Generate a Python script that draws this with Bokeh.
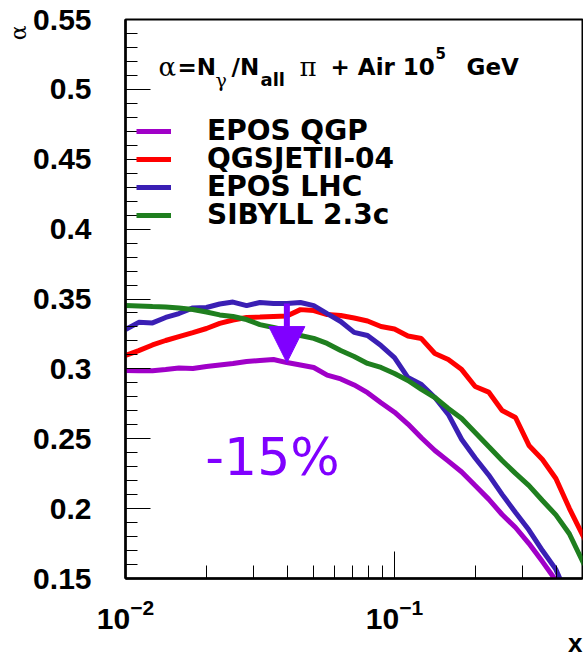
from bokeh.embed import file_html
from bokeh.models import Arrow, FixedTicker, Label, Legend, LegendItem, NormalHead, Range1d, Title
from bokeh.plotting import figure
from bokeh.resources import INLINE

# Energy fraction x, 20 log-spaced samples per decade
x_grid = [0.0100, 0.0112, 0.0126, 0.0141, 0.0158, 0.0178, 0.0200, 0.0224, 0.0251, 0.0282,
          0.0316, 0.0355, 0.0398, 0.0447, 0.0501, 0.0562, 0.0631, 0.0708, 0.0794, 0.0891,
          0.1000, 0.1122, 0.1259, 0.1413, 0.1585, 0.1778, 0.1995, 0.2239, 0.2512, 0.2818,
          0.3162, 0.3548, 0.3981, 0.4467, 0.5012, 0.5623]

# alpha = N_gamma / N_all for each hadronic interaction model
epos_qgp = [0.2988, 0.2986, 0.2986, 0.2995, 0.3006, 0.3003, 0.3017, 0.3028, 0.3038, 0.3053,
            0.3060, 0.3067, 0.3045, 0.3028, 0.3010, 0.2955, 0.2928, 0.2885, 0.2830, 0.2758,
            0.2690, 0.2605, 0.2507, 0.2416, 0.2340, 0.2262, 0.2165, 0.2068, 0.1958, 0.1865,
            0.1750, 0.1621, 0.1486, 0.1343]
qgsjet = [0.3096, 0.3131, 0.3171, 0.3203, 0.3231, 0.3260, 0.3289, 0.3325, 0.3350, 0.3368,
          0.3371, 0.3375, 0.3378, 0.3424, 0.3417, 0.3389, 0.3382, 0.3364, 0.3343, 0.3303,
          0.3285, 0.3235, 0.3217, 0.3110, 0.3067, 0.2995, 0.2874, 0.2834, 0.2702, 0.2652,
          0.2452, 0.2352, 0.2216, 0.2002, 0.1809, 0.1630]
epos_lhc = [0.3282, 0.3333, 0.3329, 0.3368, 0.3396, 0.3436, 0.3439, 0.3464, 0.3478, 0.3453,
            0.3475, 0.3468, 0.3468, 0.3475, 0.3453, 0.3396, 0.3339, 0.3261, 0.3239, 0.3167,
            0.3081, 0.2938, 0.2888, 0.2795, 0.2674, 0.2495, 0.2362, 0.2241, 0.2102, 0.1972,
            0.1847, 0.1700, 0.1565, 0.1343]
sibyll = [0.3453, 0.3450, 0.3446, 0.3443, 0.3435, 0.3425, 0.3407, 0.3386, 0.3375, 0.3353,
          0.3317, 0.3296, 0.3275, 0.3239, 0.3218, 0.3182, 0.3132, 0.3089, 0.3039, 0.3010,
          0.2967, 0.2917, 0.2853, 0.2795, 0.2717, 0.2645, 0.2545, 0.2444, 0.2344, 0.2252,
          0.2165, 0.2058, 0.1955, 0.1820, 0.1620, 0.1414]

model_names = ["EPOS QGP", "QGSJETII-04", "EPOS LHC", "SIBYLL 2.3c"]
model_colors = ["#a000c8", "#ff0000", "#3a1fb4", "#1f7f1f"]
arrow_color = "#8000ff"
arrow_index = 12          # x sample where the EPOS LHC -> EPOS QGP drop is marked
drop_label = "-15%"

# Axis ticks
y_ticks = [0.15, 0.2, 0.25, 0.3, 0.35, 0.4, 0.45, 0.5, 0.55]
y_tick_labels = ["0.15", "0.2", "0.25", "0.3", "0.35", "0.4", "0.45", "0.5", "0.55"]
y_minor = [0.15, 0.16, 0.17, 0.18, 0.19, 0.2, 0.21, 0.22, 0.23, 0.24, 0.25, 0.26, 0.27,
           0.28, 0.29, 0.3, 0.31, 0.32, 0.33, 0.34, 0.35, 0.36, 0.37, 0.38, 0.39, 0.4,
           0.41, 0.42, 0.43, 0.44, 0.45, 0.46, 0.47, 0.48, 0.49, 0.5, 0.51, 0.52, 0.53,
           0.54, 0.55]
x_ticks = [0.01, 0.1]
x_minor = [0.02, 0.03, 0.04, 0.05, 0.06, 0.07, 0.08, 0.09, 0.2, 0.3, 0.4, 0.5]

SANS = "Liberation Sans"
WIDE = "DejaVu Sans"
SERIF = "DejaVu Serif"

p = figure(width=583, height=658, x_axis_type="log",
           x_range=Range1d(0.01, 0.5), y_range=Range1d(0.15, 0.55),
           output_backend="svg", toolbar_location=None,
           min_border_left=125, min_border_right=1, min_border_top=19, min_border_bottom=80)
p.grid.visible = False
p.background_fill_color = "white"
p.border_fill_color = "white"
p.outline_line_color = "black"
p.outline_line_width = 2

# y axis
p.yaxis.ticker = FixedTicker(ticks=y_ticks, minor_ticks=y_minor)
p.yaxis.major_label_overrides = dict(zip(y_ticks, y_tick_labels))
p.yaxis.major_label_standoff = 34
p.yaxis.major_tick_in = 25
p.yaxis.minor_tick_in = 12

# x axis: log labels drawn as 10 with exponent
p.xaxis.ticker = FixedTicker(ticks=x_ticks, minor_ticks=x_minor)
p.xaxis.major_label_standoff = 20
p.xaxis.major_tick_in = 27
p.xaxis.minor_tick_in = 13

for ax in (p.xaxis, p.yaxis):
    ax.axis_line_width = 2.5
    ax.axis_line_color = "black"
    ax.major_tick_out = 0
    ax.minor_tick_out = 0
    ax.major_tick_line_color = "black"
    ax.minor_tick_line_color = "black"
    ax.major_tick_line_width = 1
    ax.minor_tick_line_width = 1
    ax.major_label_text_font = SANS
    ax.major_label_text_font_style = "bold"
    ax.major_label_text_font_size = "30px"
    ax.major_label_text_color = "black"

# axis titles
y_title = Title(text="\u03b1", align="right", offset=6, standoff=0, text_font=SERIF,
                text_font_style="normal", text_font_size="22px", text_color="black")
x_title = Title(text="x", align="right", offset=0, vertical_align="middle", text_font=SANS,
                text_font_style="bold", text_font_size="26px", text_color="black")
try:
    x_title.standoff = -10   # let the title share the space under the tick labels
except ValueError:
    x_title.standoff = 0
p.add_layout(y_title, "left")
p.add_layout(x_title, "below")

# model curves
series = [epos_qgp, qgsjet, epos_lhc, sibyll]
renderers = []
for vals, color in zip(series, model_colors):
    r = p.line(x_grid[:len(vals)], vals, line_color=color, line_width=5)
    renderers.append(r)

# legend: one entry per box so the rows can sit closer than the text height
legend_rows = [431, 403, 375, 347]
for name, r, row in zip(model_names, renderers, legend_rows):
    p.add_layout(Legend(items=[LegendItem(label=name, renderers=[r])],
                        location=(11, row), padding=0, margin=0,
                        glyph_width=35, glyph_height=20, label_height=20, label_standoff=36,
                        label_text_font=WIDE, label_text_font_style="bold",
                        label_text_font_size="28px", label_text_color="black",
                        border_line_alpha=0, background_fill_alpha=0))

# arrow from EPOS LHC down to EPOS QGP
p.add_layout(Arrow(end=NormalHead(size=36, fill_color=arrow_color, line_color=arrow_color, line_width=1),
                   x_start=x_grid[arrow_index], y_start=epos_lhc[arrow_index],
                   x_end=x_grid[arrow_index], y_end=epos_qgp[arrow_index],
                   line_color=arrow_color, line_width=6))
p.add_layout(Label(x=0.0198, y=0.2366, text=drop_label, text_font=WIDE, text_font_size="52px",
                   text_color=arrow_color, text_align="left", text_baseline="alphabetic"))

# header: alpha = N_gamma / N_all   pi + Air 10^5 GeV
tx, ty, ty_sub, ty_sup = 0.01327, 0.5161, 0.5070, 0.5262
header = [
    ("\u03b1", 0, ty, SERIF, "normal", "26px"),
    ("=N", 19, ty, WIDE, "bold", "23px"),
    ("\u03b3", 57, ty_sub, SERIF, "normal", "19px"),
    ("/N", 73, ty, WIDE, "bold", "23px"),
    ("all", 102, ty_sub, WIDE, "bold", "18px"),
    ("\u03c0", 141, ty, SERIF, "normal", "26px"),
    ("+ Air 10", 172, ty, WIDE, "bold", "23px"),
    ("5", 277, ty_sup, WIDE, "bold", "15px"),
    ("GeV", 308, ty, WIDE, "bold", "23px"),
]
for text, dx, yy, font, style, size in header:
    p.add_layout(Label(x=tx, y=yy, x_offset=dx, text=text, text_font=font, text_font_style=style,
                       text_font_size=size, text_color="black", text_align="left",
                       text_baseline="alphabetic"))

open("out.html", "w").write(file_html(p, INLINE))
